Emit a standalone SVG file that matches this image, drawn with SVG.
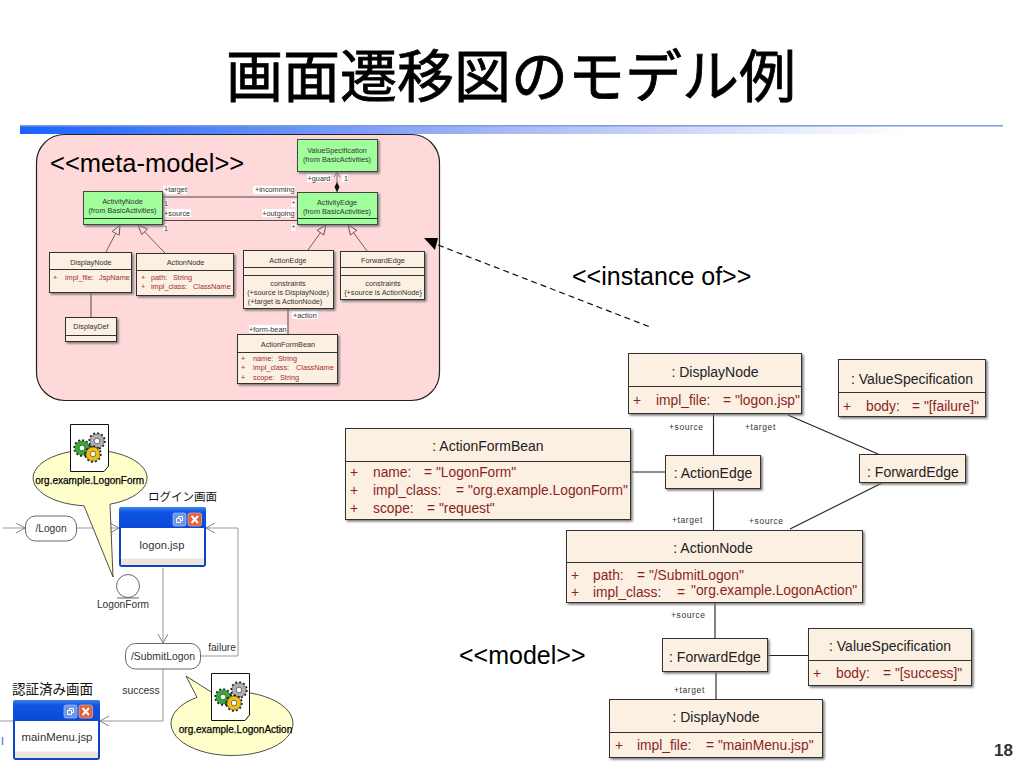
<svg xmlns="http://www.w3.org/2000/svg" xmlns:xlink="http://www.w3.org/1999/xlink" width="1024" height="768" viewBox="0 0 1024 768">
<style>
text{font-family:"Liberation Sans",Arial,sans-serif;fill:#111}
.jp{font-family:"Liberation Sans","Noto Sans CJK JP",sans-serif}
.title{font-family:"Noto Sans CJK JP",sans-serif;font-size:57px;fill:#000;stroke:#000;stroke-width:.8px}
.st{font-size:25px;fill:#000}
.c{text-anchor:middle}
.e{text-anchor:end}
.box{fill:#fbf0e2;stroke:#333;stroke-width:1;filter:url(#sh)}
.green{fill:#a0ff9c;stroke:#444;stroke-width:1;filter:url(#sh)}
.div{stroke:#333;stroke-width:1;fill:none}
.big{font-size:14px;fill:#222}
.attr{font-size:13.8px;fill:#8b1f1f}
.m{font-size:7.3px;fill:#333}
.ma{font-size:7.3px;fill:#a03030}
.lb{font-size:8.5px;letter-spacing:.6px;fill:#333}
.wb{fill:#fff;stroke:none}
.ln{stroke:#222;stroke-width:1.1;fill:none}
.gen{stroke:#444;stroke-width:.8;fill:none;marker-end:url(#tri)}
.flow{stroke:#999;stroke-width:1;fill:none;marker-end:url(#open)}
.flow2{stroke:#999;stroke-width:1;fill:none}
.act{fill:#fff;stroke:#444;stroke-width:.8}
.bub{fill:#ffffcc;stroke:#222;stroke-width:.8}
.doc{fill:#fff;stroke:#111;stroke-width:1}
.t10{font-size:10.2px;fill:#333}
.bt{font-size:10px;fill:#000;stroke:#000;stroke-width:.25px}
</style>
<defs>
<filter id="sh" x="-10%" y="-10%" width="125%" height="125%"><feDropShadow dx="1.6" dy="1.6" stdDeviation="0.8" flood-color="#777"/></filter>
<linearGradient id="bar" x1="0" x2="1" y1="0" y2="0"><stop offset="0" stop-color="#1a62ff"/><stop offset=".5" stop-color="#a9b9f4"/><stop offset=".9" stop-color="#ffffff"/></linearGradient>
<linearGradient id="hd" x1="0" x2="0" y1="0" y2="1"><stop offset="0" stop-color="#3a86ee"/><stop offset=".25" stop-color="#0f55e2"/><stop offset="1" stop-color="#0c49d8"/></linearGradient>
<marker id="tri" markerUnits="userSpaceOnUse" markerWidth="12" markerHeight="10" refX="10" refY="4.5" orient="auto"><path d="M.5 .5L10 4.5L.5 8.5Z" fill="#ffd9d9" stroke="#444" stroke-width=".8"/></marker>
<marker id="open" markerUnits="userSpaceOnUse" markerWidth="12" markerHeight="12" refX="10" refY="5" orient="auto"><path d="M1 0L10 5L1 10" fill="none" stroke="#777" stroke-width=".9"/></marker>
<marker id="openm" markerUnits="userSpaceOnUse" markerWidth="8" markerHeight="8" refX="6" refY="3" orient="auto"><path d="M0 0L6 3L0 6" fill="none" stroke="#555" stroke-width=".7"/></marker>
<g id="gear"><circle r="7.8" fill="none" stroke="#222" stroke-width="1.8" stroke-dasharray="2 2.08"/><circle r="7" stroke="#222" stroke-width=".5"/><circle r="2.8" fill="#fff" stroke="#222" stroke-width=".6"/></g>
<g id="btns">
<rect x="0" y="0" width="13" height="13" rx="2" fill="#6f96e6" stroke="#a9c2f2" stroke-width=".7"/>
<path d="M3.5 5.5h4v4h-4zM5.5 5.5v-2h4v4h-2" fill="none" stroke="#fff" stroke-width="1"/>
<rect x="15" y="0" width="13.5" height="13" rx="2" fill="#e2623e" stroke="#f0b09a" stroke-width=".7"/>
<path d="M18.5 3L25 10M25 3L18.5 10" stroke="#fff" stroke-width="2"/>
</g>
<g id="win">
<rect x="0" y="0" width="87" height="60" rx="3" fill="#0c43cc"/>
<path d="M0 3a3 3 0 0 1 3-3h81a3 3 0 0 1 3 3v18H0z" fill="url(#hd)"/>
<rect x="2" y="21" width="83" height="37" fill="#fff"/>
<rect x="2" y="51.500" width="83" height="6.500" fill="#ece5d8"/>
</g>
</defs>

<rect id="bg" width="1024" height="768" fill="#fff"/>
<text class="title" x="226" y="97">画面遷移図のモデル例</text>
<g id="rule">
<rect x="20" y="126" width="983" height="8" fill="url(#bar)"/>
<rect x="20" y="125" width="983" height="1.500" fill="#7f9bdf"/>
</g>
<rect id="meta-frame" x="36.500" y="134.500" width="403" height="266" rx="28" fill="#ffd9d9" stroke="#222" stroke-width="1.2"/>
<text class="st" x="50" y="172" style="font-size:25.500px">&lt;&lt;meta-model&gt;&gt;</text>
<text class="st" x="572" y="285">&lt;&lt;instance of&gt;&gt;</text>
<text class="st" x="459" y="664">&lt;&lt;model&gt;&gt;</text>
<text x="994" y="756" style="font-size:17px;font-weight:bold;fill:#333">18</text>
<path d="M2.500 737v8" stroke="#5b8fe0" stroke-width="1.500"/>

<g id="connectors">
<!-- meta-model -->
<path class="ln" d="M162 197H297M162 220.500H297M91 292V317M288 308V334" style="stroke-width:.8"/>
<path class="gen" d="M106 252L120 225"/>
<path class="gen" d="M165 253L138 225"/>
<path class="gen" d="M308 250L326 225"/>
<path class="gen" d="M367 251L348 225"/>
<path d="M337 183V171.500" stroke="#444" stroke-width=".7" fill="none" marker-end="url(#openm)"/>
<path d="M337 182L339.500 187L337 192.500L334.500 187Z" fill="#111"/>
<!-- model -->
<path class="ln" d="M713.500 414V455M713.500 488V530M629 472H665M788 415L878 454M882 483L790 529M715 602V638M767 655.500H808M716 671V699"/>
<!-- instance of -->
<path d="M438 245L650 327" stroke="#111" stroke-width="1.200" stroke-dasharray="6 4" fill="none"/>
<path d="M424 238L438 238L435 250Z" fill="#000"/>
<!-- flow -->
<path class="flow" d="M3 528H25"/>
<path class="flow" d="M77 528H119"/>
<path class="flow" d="M163 568V643"/>
<path class="flow" d="M201 656H238V528H206"/>
<path class="flow" d="M163 669V721H100"/>
<path class="flow2" d="M0 721H13"/>
</g>

<g id="meta-labels">
<rect class="wb" x="163" y="186" width="24" height="8"/><rect class="wb" x="253" y="186" width="42" height="8"/>
<rect class="wb" x="163" y="209" width="28" height="8"/><rect class="wb" x="262" y="209" width="33" height="8"/>
<rect class="wb" x="163.500" y="200" width="4" height="7"/><rect class="wb" x="163.500" y="224" width="4" height="7"/>
<rect class="wb" x="291.500" y="200" width="4" height="7"/><rect class="wb" x="291.500" y="224" width="4" height="7"/>
<rect class="wb" x="307" y="174" width="24" height="8"/><rect class="wb" x="342" y="174" width="6" height="8"/>
<rect class="wb" x="292" y="311" width="26" height="8"/><rect class="wb" x="249" y="325" width="38" height="8"/>
<text class="m" x="164" y="192">+target</text>
<text class="m e" x="294.500" y="192">+incomming</text>
<text class="m" x="164" y="206">1</text>
<text class="m" x="164" y="216">+source</text>
<text class="m e" x="294.500" y="216">+outgoing</text>
<text class="m" x="164" y="231">1</text>
<text class="m" x="292" y="206">*</text>
<text class="m" x="292" y="230">*</text>
<text class="m" x="307.500" y="181">+guard</text>
<text class="m" x="344" y="181">1</text>
<text class="m" x="293" y="318">+action</text>
<text class="m" x="249" y="332">+form-bean</text>
</g>

<g id="ValueSpecification">
<rect class="green" x="297.500" y="139.500" width="80" height="32"/>
<text class="m c" x="337" y="152.500">ValueSpecification</text>
<text class="m c" x="337" y="161.500">(from BasicActivities)</text>
</g>
<g id="ActivityNode">
<rect class="green" x="83.500" y="191.500" width="79" height="33"/><path class="div" d="M83.500 218.500H162.500"/>
<text class="m c" x="122.500" y="203.500">ActivityNode</text>
<text class="m c" x="122.500" y="212.500">(from BasicActivities)</text>
</g>
<g id="ActivityEdge">
<rect class="green" x="297.500" y="192.500" width="80" height="32"/><path class="div" d="M297.500 218.500H377.500"/>
<text class="m c" x="337" y="205">ActivityEdge</text>
<text class="m c" x="337" y="214">(from BasicActivities)</text>
</g>
<g id="DisplayNode">
<rect class="box" x="49.500" y="252.500" width="82" height="40"/><path class="div" d="M49.500 269.500H131.500"/>
<text class="m c" x="91" y="264.500">DisplayNode</text>
<text class="ma" x="53" y="279.500">+</text><text class="ma" x="65" y="279.500">impl_file:</text><text class="ma" x="99" y="279.500">JspName</text>
</g>
<g id="ActionNode">
<rect class="box" x="136.500" y="253.500" width="97" height="42"/><path class="div" d="M136.500 270.500H233.500"/>
<text class="m c" x="185.500" y="265">ActionNode</text>
<text class="ma" x="141" y="279.500">+</text><text class="ma" x="151" y="279.500">path:</text><text class="ma" x="173" y="279.500">String</text>
<text class="ma" x="141" y="289">+</text><text class="ma" x="151" y="289">impl_class:</text><text class="ma" x="193" y="289">ClassName</text>
</g>
<g id="ActionEdge">
<rect class="box" x="243.500" y="250.500" width="90" height="58"/><path class="div" d="M243.500 267.500H333.500M243.500 275.500H333.500"/>
<text class="m c" x="288" y="262.500">ActionEdge</text>
<text class="m c" x="288" y="285.500">constraints</text>
<text class="m c" x="288" y="295">(+source is DisplayNode)</text>
<text class="m c" x="285" y="304">(+target is ActionNode)</text>
</g>
<g id="ForwardEdge">
<rect class="box" x="340.500" y="251.500" width="84" height="48"/><path class="div" d="M340.500 267.500H424.500M340.500 275.500H424.500"/>
<text class="m c" x="383" y="262.500">ForwardEdge</text>
<text class="m c" x="383" y="286">constraints</text>
<text class="m c" x="383" y="295">{+source is ActionNode}</text>
</g>
<g id="DisplayDef">
<rect class="box" x="65.500" y="317.500" width="51" height="24"/><path class="div" d="M65.500 335.500H116.500"/>
<text class="m c" x="91" y="329">DisplayDef</text>
</g>
<g id="ActionFormBean">
<rect class="box" x="237.500" y="334.500" width="100" height="49"/><path class="div" d="M237.500 352.500H337.500"/>
<text class="m c" x="288" y="346.500">ActionFormBean</text>
<text class="ma" x="241" y="361">+</text><text class="ma" x="253" y="361">name:</text><text class="ma" x="278" y="361">String</text>
<text class="ma" x="241" y="370">+</text><text class="ma" x="253" y="370">impl_class:</text><text class="ma" x="296" y="370">ClassName</text>
<text class="ma" x="241" y="379.500">+</text><text class="ma" x="253" y="379.500">scope:</text><text class="ma" x="280" y="379.500">String</text>
</g>

<g id="i-DisplayNode-logon">
<rect class="box" x="628.500" y="353.500" width="173" height="60"/><path class="div" d="M628.500 386.500H801.500"/>
<text class="big c" x="715" y="377">: DisplayNode</text>
<text class="attr" x="633" y="405">+</text><text class="attr" x="656" y="405">impl_file:</text><text class="attr" x="723" y="405">= "logon.jsp"</text>
</g>
<g id="i-ValueSpecification-failure">
<rect class="box" x="838.500" y="359.500" width="147" height="57"/><path class="div" d="M838.500 392.500H985.500"/>
<text class="big c" x="912" y="384">: ValueSpecification</text>
<text class="attr" x="843" y="411">+</text><text class="attr" x="866" y="411">body:</text><text class="attr" x="912" y="411">= "[failure]"</text>
</g>
<g id="i-ActionFormBean">
<rect class="box" x="345.500" y="428.500" width="285" height="91"/><path class="div" d="M345.500 461.500H630.500"/>
<text class="big c" x="488" y="451">: ActionFormBean</text>
<text class="attr" x="350" y="477">+</text><text class="attr" x="373" y="477">name:</text><text class="attr" x="424" y="477">= "LogonForm"</text>
<text class="attr" x="350" y="495">+</text><text class="attr" x="373" y="495">impl_class:</text><text class="attr" x="456" y="495">= "org.example.LogonForm"</text>
<text class="attr" x="350" y="513">+</text><text class="attr" x="373" y="513">scope:</text><text class="attr" x="427" y="513">= "request"</text>
</g>
<g id="i-ActionEdge">
<rect class="box" x="665.500" y="455.500" width="95" height="33"/>
<text class="big c" x="713" y="478">: ActionEdge</text>
</g>
<g id="i-ForwardEdge-1">
<rect class="box" x="859.500" y="454.500" width="106" height="28"/>
<text class="big c" x="913" y="477">: ForwardEdge</text>
</g>
<g id="i-ActionNode">
<rect class="box" x="566.500" y="530.500" width="296" height="72"/><path class="div" d="M566.500 562.500H862.500"/>
<text class="big c" x="713" y="553">: ActionNode</text>
<text class="attr" x="571" y="580">+</text><text class="attr" x="593" y="580">path:</text><text class="attr" x="637" y="580">= "/SubmitLogon"</text>
<text class="attr" x="571" y="597">+</text><text class="attr" x="593" y="597">impl_class:</text><text class="attr" x="677" y="597">=</text><text class="attr" x="691" y="595">"org.example.LogonAction"</text>
</g>
<g id="i-ForwardEdge-2">
<rect class="box" x="662.500" y="638.500" width="105" height="33"/>
<text class="big c" x="715" y="662">: ForwardEdge</text>
</g>
<g id="i-ValueSpecification-success">
<rect class="box" x="808.500" y="628.500" width="163" height="57"/><path class="div" d="M808.500 660.500H971.500"/>
<text class="big c" x="890" y="651">: ValueSpecification</text>
<text class="attr" x="813" y="678">+</text><text class="attr" x="836" y="678">body:</text><text class="attr" x="883" y="678">= "[success]"</text>
</g>
<g id="i-DisplayNode-main">
<rect class="box" x="609.500" y="699.500" width="213" height="58"/><path class="div" d="M609.500 732.500H822.500"/>
<text class="big c" x="716" y="722">: DisplayNode</text>
<text class="attr" x="615" y="750">+</text><text class="attr" x="637" y="750">impl_file:</text><text class="attr" x="706" y="750">= "mainMenu.jsp"</text>
</g>

<g id="model-labels">
<text class="lb" x="669" y="430">+source</text>
<text class="lb" x="745" y="430">+target</text>
<text class="lb" x="672" y="523">+target</text>
<text class="lb" x="749" y="524">+source</text>
<text class="lb" x="671" y="618">+source</text>
<text class="lb" x="674" y="693">+target</text>
</g>

<g id="bubble-LogonForm">
<path class="bub" d="M110 504.200L113 577L84 505.800A57 28 0 1 1 110 504.200Z"/>
<path class="doc" d="M70.500 424.500H108.500V466L104 471.500H70.500Z"/>
<use href="#gear" x="97" y="441" fill="#b0b0b0"/>
<use href="#gear" x="82" y="448" fill="#2fae2f"/>
<use href="#gear" x="93" y="454" fill="#f2c010"/>
<text class="c bt" x="89.700" y="484">org.example.LogonForm</text>
</g>
<g id="Logon"><rect class="act" x="25.500" y="516" width="51" height="25" rx="10"/><text class="t10 c" x="51" y="532">/Logon</text></g>
<g id="logon-window">
<use href="#win" x="119" y="507"/>
<use href="#btns" x="173" y="513"/>
<text class="c" x="162" y="549" style="font-size:11.200px;fill:#333">logon.jsp</text>
</g>
<text class="jp" x="148" y="501" style="font-size:11.500px">ログイン画面</text>
<g id="LogonForm">
<circle cx="128" cy="586" r="11.500" fill="#fff" stroke="#444" stroke-width=".8"/>
<path d="M117 598H139" stroke="#444" stroke-width=".8"/>
<text class="t10 c" x="123" y="608">LogonForm</text>
</g>
<g id="SubmitLogon"><rect class="act" x="125.500" y="643.500" width="75" height="25.500" rx="10"/><text class="c" x="163" y="660" style="font-size:10.400px;fill:#333">/SubmitLogon</text></g>
<text class="t10 c" x="222" y="651">failure</text>
<text class="c" x="141" y="694" style="font-size:10.400px;fill:#333">success</text>
<text class="jp" x="12" y="694" style="font-size:13.500px">認証済み画面</text>
<g id="mainMenu-window">
<use href="#win" x="13" y="700"/>
<use href="#btns" x="64" y="705"/>
<text class="c" x="57" y="741" style="font-size:11.400px;fill:#333">mainMenu.jsp</text>
</g>
<g id="bubble-LogonAction">
<path class="bub" d="M197 697.300L186 676L213 693.100A61 32 0 1 1 197 697.300Z"/>
<path class="doc" d="M211.500 673.500H249.500V715L245 720.500H211.500Z"/>
<use href="#gear" x="239" y="690" fill="#b0b0b0"/>
<use href="#gear" x="223" y="697" fill="#2fae2f"/>
<use href="#gear" x="234" y="703" fill="#f2c010"/>
<text class="c bt" x="235.500" y="732.500">org.example.LogonAction</text>
</g>
</svg>
